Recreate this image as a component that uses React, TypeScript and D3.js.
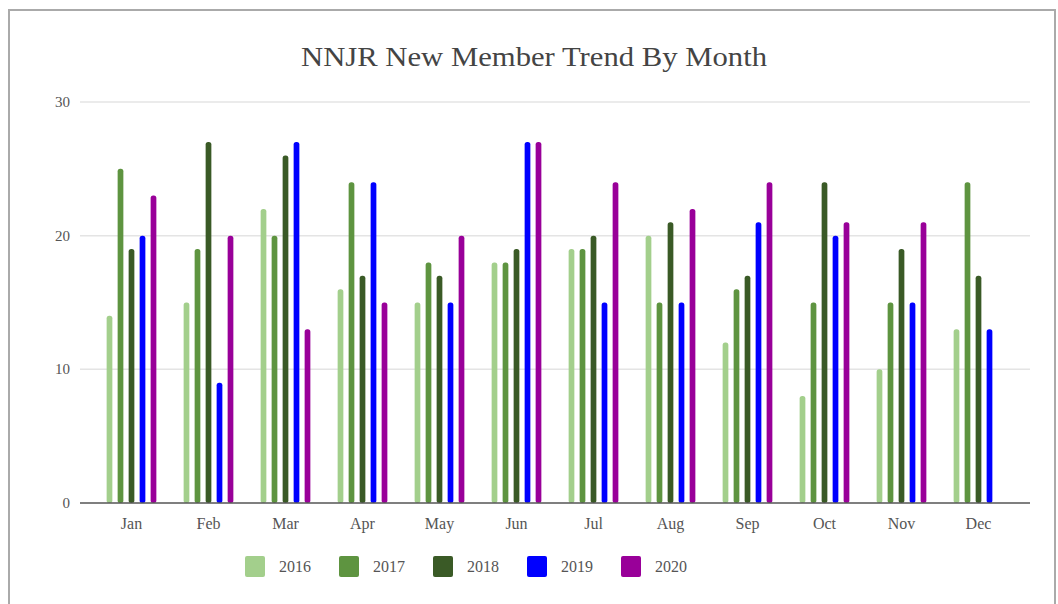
import { useEffect, useRef } from 'react';
import * as d3 from 'd3';

const months = ['Jan', 'Feb', 'Mar', 'Apr', 'May', 'Jun', 'Jul', 'Aug', 'Sep', 'Oct', 'Nov', 'Dec'];
const years = ['2016', '2017', '2018', '2019', '2020'];
const v2016 = [14, 15, 22, 16, 15, 18, 19, 20, 12, 8, 10, 13];
const v2017 = [25, 19, 20, 24, 18, 18, 19, 15, 16, 15, 15, 24];
const v2018 = [19, 27, 26, 17, 17, 19, 20, 21, 17, 24, 19, 17];
const v2019 = [20, 9, 27, 24, 15, 27, 15, 15, 21, 20, 15, 13];
const v2020 = [23, 20, 13, 15, 20, 27, 24, 22, 24, 21, 21, null];
const yTicks = [0, 10, 20, 30];
const colors = ['#a3cf8c', '#5e9440', '#3a5a26', '#0000ff', '#990099'];

const W = 1058;
const H = 604;

export default function App() {
  const svgRef = useRef<SVGSVGElement>(null);

  useEffect(() => {
    if (!svgRef.current) return;
    const svg = d3.select(svgRef.current);
    svg.selectAll('*').remove();

    const series = [v2016, v2017, v2018, v2019, v2020];
    const font = '"Liberation Serif", "Times New Roman", serif';

    // frame
    svg.append('rect')
      .attr('x', 9).attr('y', 10)
      .attr('width', 1046).attr('height', 610)
      .attr('fill', '#fff')
      .attr('stroke', '#aaa')
      .attr('stroke-width', 2);

    svg.append('text')
      .attr('x', 534).attr('y', 66)
      .attr('text-anchor', 'middle')
      .attr('font-family', font)
      .attr('font-size', 27)
      .attr('textLength', 466)
      .attr('lengthAdjust', 'spacingAndGlyphs')
      .attr('fill', '#444')
      .text('NNJR New Member Trend By Month');

    const plotLeft = 80;
    const plotRight = 1030;

    const y = d3.scaleLinear().domain([0, 30]).range([503, 102]);
    const x = d3.scaleBand<string>().domain(months).range([93, 1017]).paddingInner(0);

    // gridlines
    svg.append('g')
      .selectAll('line')
      .data(yTicks.filter(t => t > 0))
      .enter().append('line')
      .attr('x1', plotLeft).attr('x2', plotRight)
      .attr('y1', d => y(d)).attr('y2', d => y(d))
      .attr('stroke', '#e4e4e4')
      .attr('stroke-width', 1.5);

    svg.append('g')
      .selectAll('text')
      .data(yTicks)
      .enter().append('text')
      .attr('x', 70)
      .attr('y', d => y(d) + 5)
      .attr('text-anchor', 'end')
      .attr('font-family', font)
      .attr('font-size', 15)
      .attr('fill', '#555')
      .text(d => d);

    // bars
    const groups = svg.append('g')
      .selectAll('g')
      .data(months)
      .enter().append('g');

    groups.each(function (m, i) {
      const cx = (x(m) as number) + x.bandwidth() / 2;
      const inner = d3.scaleBand<string>().domain(years).range([cx - 27.5, cx + 27.5]).paddingInner(0.48).paddingOuter(0.24);
      const vals = series.map((s, k) => ({ year: years[k], v: s[i], c: colors[k] }))
        .filter(d => d.v !== null);
      d3.select(this).selectAll('rect')
        .data(vals)
        .enter().append('rect')
        .attr('x', d => inner(d.year) as number)
        .attr('y', d => y(d.v as number))
        .attr('width', inner.bandwidth())
        .attr('height', d => y(0) - y(d.v as number))
        .attr('rx', 2.5)
        .attr('fill', d => d.c);
    });

    // baseline
    svg.append('line')
      .attr('x1', plotLeft).attr('x2', plotRight)
      .attr('y1', y(0)).attr('y2', y(0))
      .attr('stroke', '#555')
      .attr('stroke-width', 1.5);

    svg.append('g')
      .selectAll('text')
      .data(months)
      .enter().append('text')
      .attr('x', d => (x(d) as number) + x.bandwidth() / 2)
      .attr('y', 529)
      .attr('text-anchor', 'middle')
      .attr('font-family', font)
      .attr('font-size', 16)
      .attr('fill', '#555')
      .text(d => d);

    // legend
    const legend = svg.append('g')
      .selectAll('g')
      .data(years)
      .enter().append('g')
      .attr('transform', (d, i) => `translate(${245 + i * 94},556)`);

    legend.append('rect')
      .attr('width', 20).attr('height', 21)
      .attr('rx', 2)
      .attr('fill', (d, i) => colors[i]);

    legend.append('text')
      .attr('x', 34).attr('y', 16)
      .attr('font-family', font)
      .attr('font-size', 16)
      .attr('fill', '#555')
      .text(d => d);
  }, []);

  return (
    <svg
      ref={svgRef}
      width={W}
      height={H}
      style={{ position: 'absolute', left: 0, top: 0, display: 'block' }}
    />
  );
}
